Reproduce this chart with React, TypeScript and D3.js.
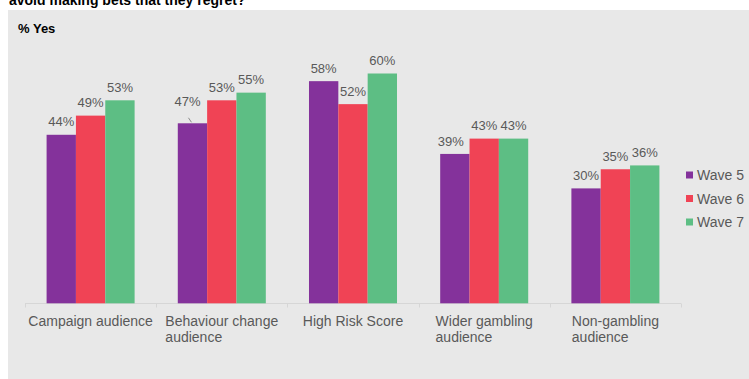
import React, { useEffect, useRef } from "react";
import * as d3 from "d3";

const categories = [
  ["Campaign audience"],
  ["Behaviour change", "audience"],
  ["High Risk Score"],
  ["Wider gambling", "audience"],
  ["Non-gambling", "audience"],
];
const seriesNames = ["Wave 5", "Wave 6", "Wave 7"];
const wave5 = [44, 47, 58, 39, 30];
const wave6 = [49, 53, 52, 43, 35];
const wave7 = [53, 55, 60, 43, 36];
const colors = ["#84329B", "#F04355", "#5DBE84"];
const titleText = "avoid making bets that they regret?";
const yLabel = "% Yes";

const W = 749;
const H = 379;
const FONT = "'Liberation Sans', Arial, Helvetica, sans-serif";

export default function App() {
  const ref = useRef<SVGSVGElement | null>(null);

  useEffect(() => {
    const svg = d3.select(ref.current);
    svg.selectAll("*").remove();

    svg.append("rect").attr("x", 8).attr("y", 10).attr("width", W - 8).attr("height", H - 10).attr("fill", "#E8E8E8");

    svg.append("text").attr("x", 9).attr("y", 5).attr("font-family", FONT).attr("font-size", 14)
      .attr("font-weight", "bold").attr("fill", "#000").text(titleText);

    svg.append("text").attr("x", 18).attr("y", 33).attr("font-family", FONT).attr("font-size", 13)
      .attr("font-weight", "bold").attr("fill", "#000").text(yLabel);

    const series = [wave5, wave6, wave7];
    const x0 = d3.scaleBand<number>().domain(d3.range(categories.length)).range([25, 681]).padding(0);
    const x1 = d3.scaleBand<number>().domain(d3.range(series.length)).range([0, x0.bandwidth()])
      .paddingInner(0).paddingOuter(0.736);
    const y = d3.scaleLinear().domain([0, 60]).range([303.3, 73.5]);

    // axis
    const axisG = svg.append("g");
    axisG.append("line").attr("x1", 25).attr("x2", 681).attr("y1", 303.5).attr("y2", 303.5)
      .attr("stroke", "#D6D6D6").attr("stroke-width", 1);
    const bounds = d3.range(categories.length + 1).map((i) => (i < categories.length ? x0(i)! : 681));
    axisG.selectAll("line.tick").data(bounds).enter().append("line")
      .attr("x1", (d) => Math.round(d) + 0.5).attr("x2", (d) => Math.round(d) + 0.5)
      .attr("y1", 303.5).attr("y2", 307.5).attr("stroke", "#D6D6D6");

    // bars
    series.forEach((vals, si) => {
      const g = svg.append("g");
      g.selectAll("rect").data(vals).enter().append("rect")
        .attr("x", (_, i) => x0(i)! + x1(si)!)
        .attr("y", (d) => y(d))
        .attr("width", x1.bandwidth())
        .attr("height", (d) => y(0) - y(d))
        .attr("fill", colors[si]);
      g.selectAll("text").data(vals).enter().append("text")
        .attr("x", (_, i) => x0(i)! + x1(si)! + x1.bandwidth() / 2 + (si === 0 && i === 1 ? -5 : si === 0 && i === 3 ? -4 : 0))
        .attr("y", (d, i) => y(d) - 8.3 - (si === 0 && i === 1 ? 9 : 0))
        .attr("text-anchor", "middle")
        .attr("font-family", FONT).attr("font-size", 13).attr("fill", "#595959")
        .text((d) => `${d}%`);
    });
    // leader line for displaced label
    {
      const cx = x0(1)! + x1(0)! + x1.bandwidth() / 2;
      svg.append("line").attr("x1", cx - 4).attr("y1", y(wave5[1]) - 5.5).attr("x2", cx - 1).attr("y2", y(wave5[1]) - 1)
        .attr("stroke", "#8C8C8C").attr("stroke-width", 1);
    }

    // category labels (block centered, lines left-aligned)
    categories.forEach((lines, i) => {
      const g = svg.append("g");
      const texts = lines.map((ln, li) =>
        g.append("text").attr("y", 325.5 + li * 16.5).attr("font-family", FONT).attr("font-size", 14)
          .attr("fill", "#595959").text(ln)
      );
      const widths = texts.map((t) => (t.node() as SVGTextElement).getComputedTextLength());
      const bw = Math.max(...widths);
      const cx = x0(i)! + x0.bandwidth() / 2;
      texts.forEach((t) => t.attr("x", cx - bw / 2));
    });

    // legend
    seriesNames.forEach((name, i) => {
      const cy = 175 + i * 23.5;
      svg.append("rect").attr("x", 686).attr("y", cy - 3.5).attr("width", 7).attr("height", 7).attr("fill", colors[i]);
      svg.append("text").attr("x", 697).attr("y", cy + 5).attr("font-family", FONT).attr("font-size", 14)
        .attr("fill", "#595959").text(name);
    });
  }, []);

  return (
    <svg ref={ref} width={W} height={H} style={{ position: "absolute", left: 0, top: 0, display: "block" }} />
  );
}
